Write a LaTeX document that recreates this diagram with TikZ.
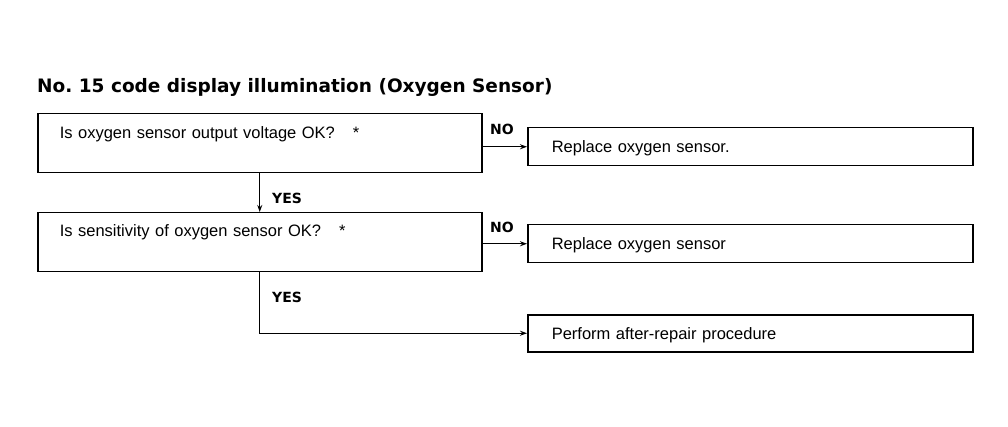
\documentclass[tikz,border=0pt]{standalone}
\usepackage{fontspec}
\setmainfont{Liberation Sans}
\newfontfamily\headfont{DejaVu Sans}
\usetikzlibrary{positioning}
\usetikzlibrary{arrows.meta}
\usetikzlibrary{calc}

\begin{document}
\begin{tikzpicture}[x=1pt, y=-1pt,
    qbox/.style={draw, line width=1.5pt, anchor=north west, inner ysep=0pt, inner xsep=22pt,
      text width=400pt, align=left, text height=25pt, text depth=34pt, font=\fontsize{16.5}{18}\selectfont},
    abox/.style={draw, line width=1.5pt, anchor=north west, inner ysep=0pt, inner xsep=24pt,
      text width=397pt, align=left, text height=25pt, text depth=13pt, font=\fontsize{16.5}{18}\selectfont},
    flow/.style={line width=1pt, -{Stealth[length=7pt, width=5pt]}},
    tag/.style={font=\headfont\bfseries\fontsize{14}{16}\selectfont, inner sep=0pt, anchor=base west}]
  \useasboundingbox (0,0) rectangle (1008,427);

  \node[font=\headfont\bfseries\fontsize{18.5}{21}\selectfont, anchor=base west, inner sep=0pt] (title) at (37,93)
    {No.\ 15 code display illumination (Oxygen Sensor)};

  % left column: the two checks
  \node[qbox] (chk1) at (37,113) {Is oxygen sensor output voltage OK?\hspace{18pt}*};
  \node[qbox, text height=24pt, text depth=35pt] (chk2) at (37,212) {Is sensitivity of oxygen sensor OK?\hspace{18pt}*};

  % right column: what to do
  \node[abox] (fix1) at (527,127) {Replace oxygen sensor.};
  \node[abox] (fix2) at (527,224) {Replace oxygen sensor};
  \node[abox, text depth=12pt] (done) at (527,314) {Perform after-repair procedure};

  \coordinate (down1) at ($(chk1.south west)!0.5!(chk1.south east)$);
  \coordinate (down2) at ($(chk2.south west)!0.5!(chk2.south east)$);
  \coordinate (turn) at (down2 |- done.west);

  \draw[flow] (chk1.east |- fix1.west) -- (fix1.west);
  \draw[flow] (chk2.east |- fix2.west) -- (fix2.west);
  \draw[flow] (down1) -- (down1 |- chk2.north);
  \draw[flow] (down2) -- (turn) -- (done.west);

  \node[tag] (no1) at (490,135) {NO};
  \node[tag] (no2) at (490,233) {NO};
  \node[tag] (yes1) at (272,204) {YES};
  \node[tag] (yes2) at (272,302) {YES};
\end{tikzpicture}
\end{document}
